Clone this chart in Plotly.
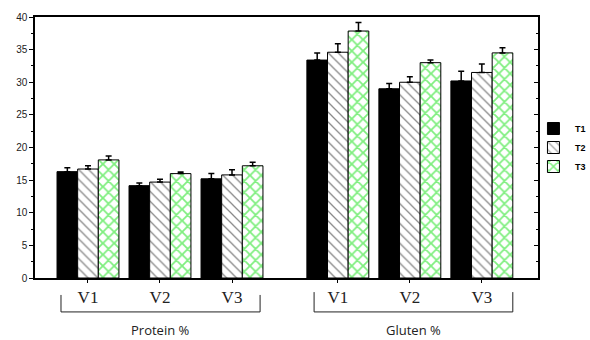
import plotly.graph_objects as go

# ---- data ----
categories = ["V1", "V2", "V3", "V1", "V2", "V3"]
groups = ["Protein %", "Gluten %"]
positions = [0, 1, 2, 3.47, 4.47, 5.47]
series_names = ["T1", "T2", "T3"]
t1_values = [16.3, 14.15, 15.2, 33.4, 29.0, 30.2]
t1_err = [0.6, 0.4, 0.8, 1.1, 0.8, 1.5]
t2_values = [16.7, 14.7, 15.8, 34.6, 30.0, 31.5]
t2_err = [0.5, 0.45, 0.8, 1.3, 0.85, 1.3]
t3_values = [18.1, 16.0, 17.2, 37.85, 33.0, 34.5]
t3_err = [0.6, 0.25, 0.55, 1.3, 0.4, 0.8]
y_ticks = [0, 5, 10, 15, 20, 25, 30, 35, 40]

fig = go.Figure()

styles = [
    dict(color="black", pattern=None),
    dict(color="white", pattern=dict(shape="\\", fgcolor="#111111", bgcolor="white", size=7, solidity=0.18)),
    dict(color="white", pattern=dict(shape="x", fgcolor="#00dd00", bgcolor="white", size=8, solidity=0.4)),
]
for name, vals, errs, st in zip(series_names, [t1_values, t2_values, t3_values],
                                [t1_err, t2_err, t3_err], styles):
    marker = dict(color=st["color"], line=dict(color="black", width=1))
    if st["pattern"]:
        marker["pattern"] = st["pattern"]
    fig.add_trace(go.Bar(
        x=positions, y=vals, name=name, marker=marker,
        error_y=dict(type="data", array=errs, arrayminus=[0] * len(errs), symmetric=False,
                     color="black", thickness=1.5, width=3),
    ))

# invisible trace for right axis
fig.add_trace(go.Scatter(x=[positions[0]], y=[0], yaxis="y2", mode="markers",
                         marker=dict(opacity=0), showlegend=False, hoverinfo="skip"))

x_lo, x_hi = -0.736, 6.25
fig.update_layout(
    width=590, height=340,
    margin=dict(l=35, r=52, t=17, b=62, autoexpand=False),
    paper_bgcolor="white", plot_bgcolor="white",
    barmode="group", bargap=0.14, bargroupgap=0,
    showlegend=True,
    legend=dict(x=0.988, xanchor="left", y=0.5, yanchor="middle",
                font=dict(family="Liberation Sans", size=9, color="black", weight="bold"),
                bgcolor="rgba(0,0,0,0)", itemwidth=33, tracegroupgap=0),
    xaxis=dict(range=[x_lo, x_hi], tickvals=positions, ticktext=categories,
               showline=True, linecolor="black", linewidth=1.5, mirror=True,
               ticks="outside", ticklen=3, tickcolor="black",
               tickfont=dict(family="Liberation Serif", size=17, color="#222"),
               showgrid=False, zeroline=False, automargin=False),
    yaxis=dict(range=[0, 40], tickvals=y_ticks,
               showline=True, linecolor="black", linewidth=1.5,
               ticks="outside", ticklen=4, tickcolor="black",
               minor=dict(dtick=2.5, ticks="outside", ticklen=2, tickcolor="black"),
               tickfont=dict(family="Liberation Sans", size=10, color="#222"),
               showgrid=False, zeroline=False, automargin=False),
    yaxis2=dict(range=[0, 40], overlaying="y", side="right", tickvals=y_ticks,
                showticklabels=False, showline=True, linecolor="black", linewidth=1.5,
                ticks="inside", ticklen=4, tickcolor="black",
                minor=dict(dtick=2.5, ticks="inside", ticklen=2, tickcolor="black"),
                showgrid=False, zeroline=False, automargin=False),
)

# brackets and group labels
brackets = [
    (positions[0] - 0.375, positions[2] + 0.39, -0.065),
    (positions[3] - 0.33, positions[5] + 0.43, -0.054),
]
for (a, b, ytop), g in zip(brackets, groups):
    ybot = -0.13
    fig.add_shape(type="path", xref="x", yref="paper",
                  path=f"M {a},{ytop} L {a},{ybot} L {b},{ybot} L {b},{ytop}",
                  line=dict(color="#222", width=1))
    fig.add_annotation(x=(a + b) / 2, y=-0.2, xref="x", yref="paper", text=g,
                       showarrow=False, yanchor="middle",
                       font=dict(family="Open Sans", size=13, color="#222"))

fig.write_html("out.html", config={"displayModeBar": False},
               post_script="document.body.style.margin='0';")
